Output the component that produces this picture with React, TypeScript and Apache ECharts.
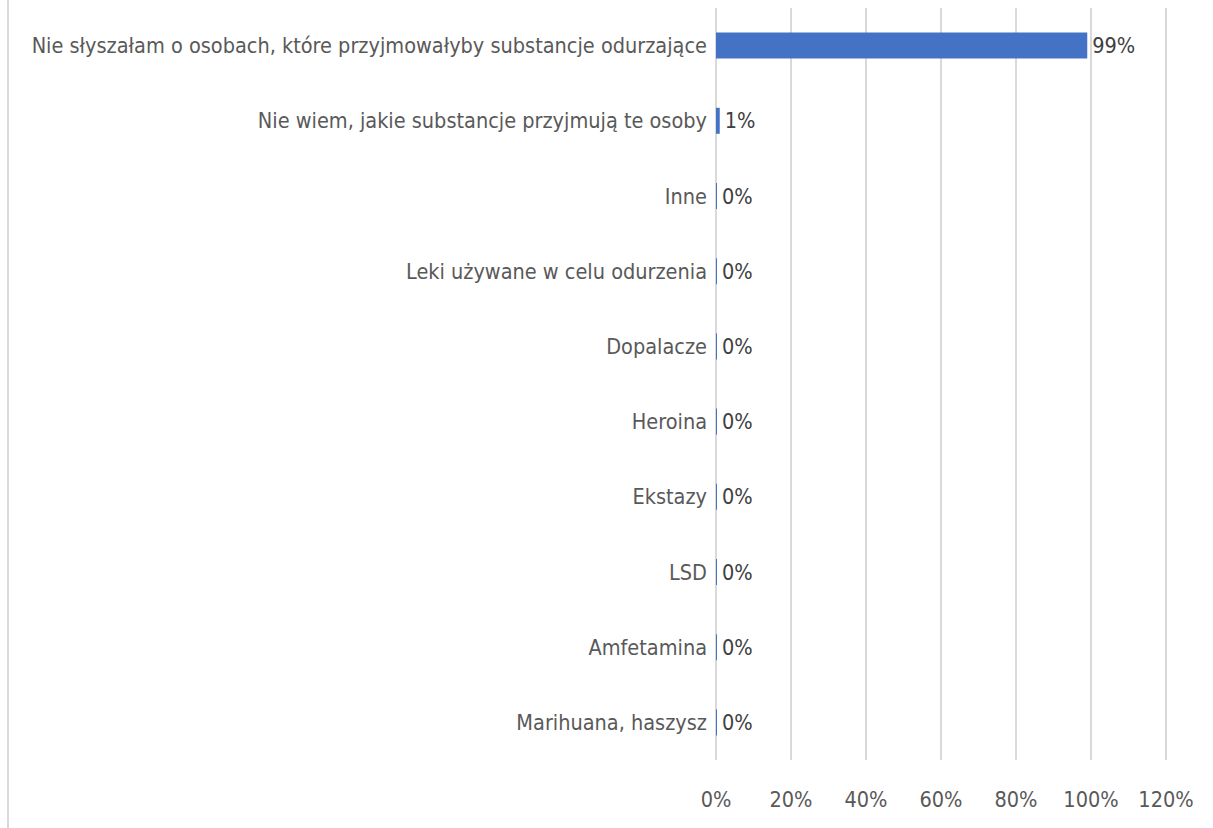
import React, { useEffect, useRef } from "react";
import * as echarts from "echarts";

const categories = [
  "Marihuana, haszysz",
  "Amfetamina",
  "LSD",
  "Ekstazy",
  "Heroina",
  "Dopalacze",
  "Leki używane w celu odurzenia",
  "Inne",
  "Nie wiem, jakie substancje przyjmują te osoby",
  "Nie słyszałam o osobach, które przyjmowałyby substancje odurzające",
];
const values = [0, 0, 0, 0, 0, 0, 0, 0, 1, 99];
const axisMin = 0;
const axisMax = 120;
const axisInterval = 20;

const FONT = "'Liberation Sans Narrow', 'DejaVu Sans Condensed', sans-serif";
const FS = 21.5;

export default function App() {
  const ref = useRef<HTMLDivElement>(null);
  useEffect(() => {
    const chart = echarts.init(ref.current!, undefined, { renderer: "svg" });
    chart.setOption({
      animation: false,
      backgroundColor: "#ffffff",
      grid: {
        left: 716,
        right: 47,
        top: 8,
        bottom: 68,
        containLabel: false,
        outerBoundsMode: "none",
      },
      xAxis: {
        type: "value",
        min: axisMin,
        max: axisMax,
        interval: axisInterval,
        axisLine: { show: false },
        axisTick: { show: false },
        splitLine: { show: true, lineStyle: { color: "#d9d9d9", width: 2 } },
        axisLabel: {
          formatter: (v: number) => `${v}%`,
          color: "#595959",
          fontSize: FS,
          fontFamily: FONT,
          margin: 28,
        },
      },
      yAxis: {
        type: "category",
        data: categories,
        axisLine: { show: false },
        axisTick: { show: false },
        axisLabel: {
          color: "#595959",
          fontSize: FS,
          fontFamily: FONT,
          margin: 9,
        },
      },
      series: [
        {
          type: "bar",
          data: values,
          barWidth: 26,
          barMinHeight: 1,
          itemStyle: { color: "#4472C4" },
          label: {
            show: true,
            position: "right",
            distance: 5,
            formatter: (p: any) => `${p.value}%`,
            color: "#404040",
            fontSize: FS,
            fontFamily: FONT,
          },
        },
      ],
      graphic: [
        {
          type: "line",
          shape: { x1: 8, y1: 0, x2: 8, y2: 828 },
          style: { stroke: "#d9d9d9", lineWidth: 2 },
        },
      ],
    });
    return () => chart.dispose();
  }, []);
  return (
    <div
      ref={ref}
      style={{ position: "fixed", left: 0, top: 0, width: 1213, height: 828 }}
    />
  );
}
